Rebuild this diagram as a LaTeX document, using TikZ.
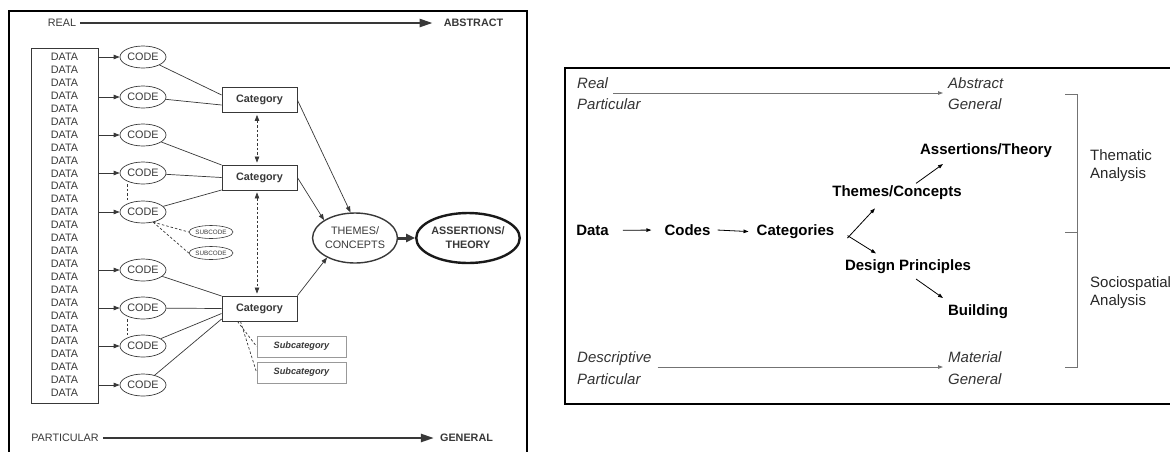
\documentclass[tikz,border=0pt]{standalone}
\usepackage{fontspec}
\setmainfont{Liberation Sans}
\setsansfont{Liberation Sans}
\usetikzlibrary{arrows.meta,shapes.geometric,calc}

\definecolor{ink}{gray}{0.22}
\definecolor{rule}{gray}{0.45}

\tikzset{
  lab/.style={inner sep=0pt, text=ink, font=\sffamily\fontsize{10.8}{12}\selectfont},
  labb/.style={lab, font=\sffamily\fontsize{10.8}{12}\selectfont\bfseries},
  bigarrow/.style={line width=2.4pt, ink, -{Triangle[length=13pt,width=8pt]}},
  databox/.style={draw=ink, line width=0.8pt, minimum width=67pt, minimum height=355pt},
  code/.style={ellipse, draw=ink, line width=0.7pt, minimum width=46pt, minimum height=22pt,
    inner sep=0pt, text=ink, font=\sffamily\fontsize{10.8}{12}\selectfont},
  subcode/.style={ellipse, draw=ink, line width=0.6pt, minimum width=44pt, minimum height=13pt,
    inner sep=0pt, text=ink, font=\sffamily\fontsize{6.3}{7}\selectfont},
  cat/.style={draw=ink, line width=0.8pt, minimum width=75pt, minimum height=25pt,
    inner sep=0pt, text=ink, font=\sffamily\fontsize{10.8}{12}\selectfont\bfseries},
  subcat/.style={draw=black!40, line width=0.8pt, minimum width=89pt, minimum height=21pt,
    inner sep=0pt, text=ink, font=\sffamily\fontsize{9.2}{11}\selectfont\bfseries\itshape},
  link/.style={ink, line width=0.7pt},
  dlink/.style={ink, line width=0.7pt, dashed, dash pattern=on 2.5pt off 2pt},
  % right-hand panel
  rtext/.style={inner sep=0pt, font=\sffamily\fontsize{15}{18}\selectfont},
  rital/.style={rtext, font=\sffamily\fontsize{15}{18}\selectfont\itshape, text=black!80},
  rbold/.style={rtext, font=\sffamily\fontsize{15}{18}\selectfont\bfseries},
  flow/.style={line width=0.8pt, -{Triangle[length=5pt,width=3.5pt]}},
  scale line/.style={rule, line width=0.8pt, -{Triangle[length=5pt,width=3.5pt]}},
}

\begin{document}
\begin{tikzpicture}[x=1pt, y=-1pt, font=\sffamily, >={Triangle[length=6pt,width=4.5pt]}]
  \useasboundingbox (0,0) rectangle (1170,451);

  % ---- coding process ----
  \draw[line width=2pt] (9,460) -- (9,11) -- (527,11) -- (527,460);

  % scale arrows
  \node[lab] (real) at (62,23) {REAL};
  \node[labb] (abstr) at (473.5,23) {ABSTRACT};
  \draw[bigarrow, shorten <=4pt, shorten >=11pt] (real) -- (abstr);
  \node[lab] (partic) at (65,438) {PARTICULAR};
  \node[labb] (gener) at (466.5,438) {GENERAL};
  \draw[bigarrow, shorten <=4pt, shorten >=6pt] (partic) -- (gener);

  % data column
  \node[databox] (data) at (64.5,225.5) {};
  \foreach \i in {0,...,26}
    \node[lab] (d\i) at (64.5,{57+12.92*\i}) {DATA};

  % codes
  \foreach \n/\y in {1/57,2/97,3/135,4/173,5/212,6/270,7/308,8/346,9/385} {
    \node[code] (c\n) at (143,\y) {CODE};
    \draw[link,->] (data.east |- c\n) -- (c\n);
  }
  \draw[dlink] ([xshift=-16pt]c4.south) -- ([xshift=-16pt]c5.north);
  \draw[dlink] ([xshift=-16pt]c7.south) -- ([xshift=-16pt]c8.north);

  \node[subcode] (s1) at (211,232) {SUBCODE};
  \node[subcode] (s2) at (211,253) {SUBCODE};
  \draw[dlink] (c5.315) -- (s1.west);
  \draw[dlink] (c5.315) -- (s2.west);

  % categories
  \node[cat] (cat1) at (259.5,100) {Category};
  \node[cat] (cat2) at (259.5,177.5) {Category};
  \node[cat] (cat3) at (259.5,308.5) {Category};

  \foreach \c/\k/\dy in {1/1/-5, 2/1/5, 3/2/-12.5, 4/2/0, 5/2/12.5, 6/3/-12.5, 7/3/0, 8/3/5, 9/3/10.5}
    \draw[link] (c\c) -- ($(cat\k.west)+(0,\dy)$);

  \draw[dlink, <->, shorten <=2pt, shorten >=2pt] ([xshift=-2.5pt]cat1.south) -- ([xshift=-2.5pt]cat2.north);
  \draw[dlink, <->, shorten <=2pt, shorten >=2pt] ([xshift=-2.5pt]cat2.south) -- ([xshift=-2.5pt]cat3.north);

  \node[subcat] (sc1) at (301.5,346.5) {Subcategory};
  \node[subcat] (sc2) at (301.5,372.5) {Subcategory};
  \draw[dlink] ($(cat3.south)+(-22,0)$) -- (sc1.west);
  \draw[dlink] ($(cat3.south)+(-19,0)$) -- (sc2.west);

  % themes and theory
  \node[ellipse, draw=ink, line width=1.4pt, minimum width=73pt, minimum height=50pt, inner sep=0pt,
        align=center, text=ink, font=\sffamily\fontsize{10.8}{14}\selectfont] (themes) at (355,238) {THEMES/\\CONCEPTS};
  \node[ellipse, draw=black!90, line width=2.4pt, minimum width=97pt, minimum height=50pt, inner sep=0pt,
        align=center, text=ink, font=\sffamily\fontsize{10.8}{14}\selectfont\bfseries] (assert) at (468,238) {ASSERTIONS/\\THEORY};

  \draw[link,->] (cat1.east) -- (themes.100);
  \draw[link,->] (cat2.east) -- (themes.150);
  \draw[link,->] (cat3.north east) -- (themes.215);
  \draw[line width=3pt, ink, -{Triangle[length=9pt,width=8pt]}] (themes) -- (assert);

  % ---- analysis scheme ----
  \draw[line width=2pt] (1175,68) -- (565,68) -- (565,404) -- (1175,404);

  \node[rital, anchor=base west] (realB) at (577,88.5) {Real};
  \node[rital, anchor=base west] (particA) at (577,109) {Particular};
  \node[rital, anchor=base west] (abstrB) at (948,88.5) {Abstract};
  \node[rital, anchor=base west] (generA) at (948,109) {General};
  \draw[scale line] ($(realB.base east)+(5,4.5)$) -- ($(abstrB.base west)+(-5,4.5)$);

  \node[rital, anchor=base west] (descr) at (577,362.5) {Descriptive};
  \node[rital, anchor=base west] (particB) at (577,384.5) {Particular};
  \node[rital, anchor=base west] (mater) at (948,362.5) {Material};
  \node[rital, anchor=base west] (generB) at (948,384.5) {General};
  \draw[scale line] ($(descr.base east)+(6,4.5)$) -- ($(mater.base west)+(-5,4.5)$);

  % bracket
  \draw[rule, line width=0.8pt] (1065,94) -| (1077,367) -- (1065,367);
  \draw[rule, line width=0.8pt] (1065,232) -- (1077,232);
  \node[rtext, anchor=west, align=left, text=black!85] (them) at (1090,166) {Thematic\\Analysis};
  \node[rtext, anchor=west, align=left, text=black!85] (socio) at (1090,292.5) {Sociospatial\\Analysis};

  % flow
  \node[rbold, anchor=base] (dataB) at (592.5,235.4) {Data};
  \node[rbold, anchor=base] (codes) at (687.5,235.4) {Codes};
  \node[rbold, anchor=base] (cats) at (795.5,235.4) {Categories};
  \node[rbold, anchor=base] (themesB) at (897,196.4) {Themes/Concepts};
  \node[rbold, anchor=base] (assertB) at (986,154.4) {Assertions/Theory};
  \node[rbold, anchor=base] (design) at (908,270.4) {Design Principles};
  \node[rbold, anchor=base] (build) at (978,315.4) {Building};

  \draw[flow] ($(dataB.east)+(14,0)$) -- ($(codes.west)+(-13,0)$);
  \draw[flow] ($(codes.east)+(7,0)$) -- ($(cats.west)+(-8,0)$);
  \draw[flow] ($(cats.east)+(13,6.5)$) -- ($(themesB.base)+(-22,12)$);
  \draw[flow] ($(cats.east)+(13,4)$) -- ($(design.base)+(-32,-17)$);
  \draw[flow] ($(themesB.base)+(19,-13)$) -- ($(assertB.base)+(-43,9.6)$);
  \draw[flow] ($(design.base)+(8,8.6)$) -- ($(build.base)+(-35,-17.4)$);
\end{tikzpicture}
\end{document}
